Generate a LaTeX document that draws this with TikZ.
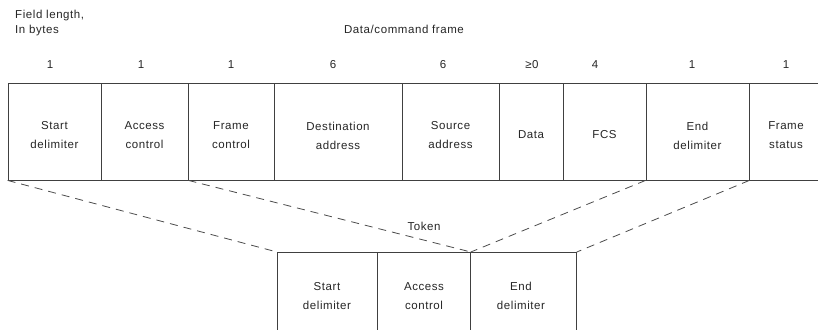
\documentclass[tikz,border=0pt]{standalone}
\usepackage{fontspec}
\setmainfont{Liberation Sans}[LetterSpace=5]
\begin{document}
\begin{tikzpicture}[x=1pt,y=-1pt,
  txt/.style={font=\fontsize{11.5}{15}\selectfont, text=black!85, inner sep=0pt, align=center},
  ctxt/.style={font=\fontsize{11.5}{19}\selectfont, text=black!85, inner sep=0pt, align=center},
  cell/.style={draw=black!75, line width=0.8pt, rectangle, inner sep=0pt, minimum height=97pt},
  tcell/.style={cell, minimum height=100pt},
  conn/.style={draw=black!70, line width=0.8pt, dash pattern=on 8pt off 6pt}]
\clip (0,0) rectangle (818,329);
\useasboundingbox (0,0) rectangle (818,329);
\fill[white] (0,0) rectangle (818,329);
% header texts
\node[txt, anchor=west, align=left] (fl) at (15,23) {Field length,\\In bytes};
\node[txt] (dcf) at (404,29) {Data/command frame};
% frame cells
\node[cell, minimum width=93pt] (sd) at (54.5,131.5) {};
\node[cell, minimum width=87pt] (ac) at (144.5,131.5) {};
\node[cell, minimum width=86pt] (fc) at (231,131.5) {};
\node[cell, minimum width=128pt] (da) at (338,131.5) {};
\node[cell, minimum width=97pt] (sa) at (450.5,131.5) {};
\node[cell, minimum width=64pt] (dt) at (531,131.5) {};
\node[cell, minimum width=83pt] (fcs) at (604.5,131.5) {};
\node[cell, minimum width=103pt] (ed) at (697.5,131.5) {};
\node[cell, minimum width=90pt] (fs) at (794,131.5) {};
\node[ctxt] (sdt) at ([yshift=-4pt]sd.center) {Start\\delimiter};
\node[ctxt] (act) at ([yshift=-4pt]ac.center) {Access\\control};
\node[ctxt] (fct) at ([yshift=-4pt]fc.center) {Frame\\control};
\node[ctxt] (dat) at ([yshift=-4pt]da.center) {Destination\\address};
\node[ctxt] (sat) at ([yshift=-4pt]sa.center) {Source\\address};
\node[ctxt] (dtt) at ([yshift=-3pt]dt.center) {Data};
\node[ctxt] (fcst) at ([yshift=-3pt]fcs.center) {FCS};
\node[ctxt] (edt) at ([yshift=-4pt]ed.center) {End\\delimiter};
\node[ctxt] (fst) at ([xshift=-8pt,yshift=-4pt]fs.center) {Frame\\status};
% field lengths
\node[txt] (n1) at (50,65) {1};
\node[txt] (n2) at (141,65) {1};
\node[txt] (n3) at (231,65) {1};
\node[txt] (n4) at (333,65) {6};
\node[txt] (n5) at (443,65) {6};
\node[txt] (n6) at (532,65) {≥0};
\node[txt] (n7) at (595,65) {4};
\node[txt] (n8) at (692,65) {1};
\node[txt] (n9) at (786,65) {1};
% token
\node[txt] (tok) at (424,226) {Token};
\node[tcell, minimum width=100pt, anchor=north west] (tsd) at (277,252) {};
\node[tcell, minimum width=93pt, anchor=north west] (tac) at (377,252) {};
\node[tcell, minimum width=106pt, anchor=north west] (ted) at (470,252) {};
\node[ctxt] (tsdt) at (327,296) {Start\\delimiter};
\node[ctxt] (tact) at (424,296) {Access\\control};
\node[ctxt] (tedt) at (521,296) {End\\delimiter};
% connectors
\draw[conn] (sd.south west) -- (tsd.north west);
\draw[conn] (ac.south east) -- (tac.north east);
\draw[conn] (ed.south west) -- (tac.north east);
\draw[conn] (ed.south east) -- (ted.north east);
\end{tikzpicture}
\end{document}
